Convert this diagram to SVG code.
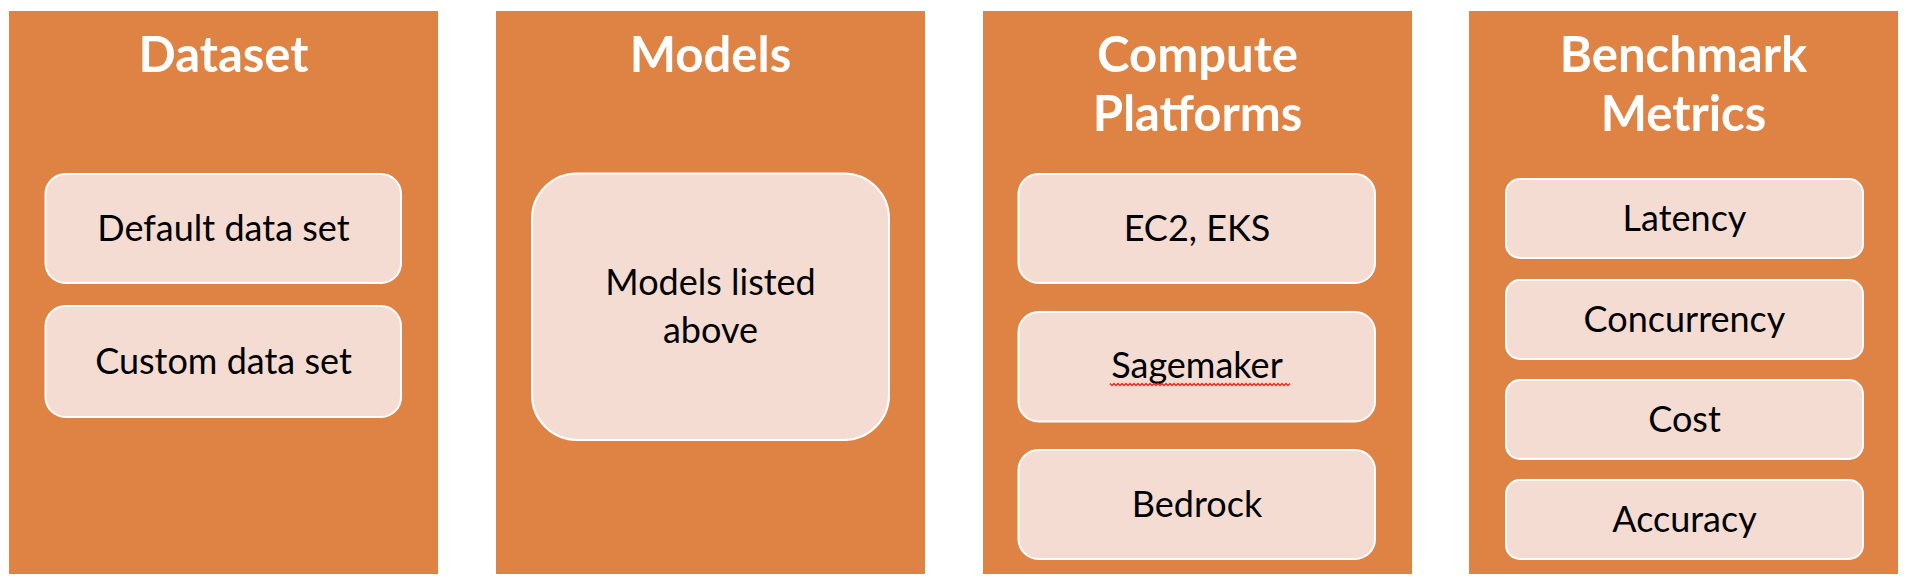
<svg xmlns="http://www.w3.org/2000/svg" width="1906" height="586" viewBox="0 0 1906 586">
<style>
.panel{fill:#DF8344}
.box{fill:#F5DCD3;stroke:#FFFFFF;stroke-width:2}
.title{font-family:Lato,"Open Sans","Liberation Sans",sans-serif;font-weight:700;font-size:49px;fill:#FFFFFF;text-anchor:middle}
.label{font-family:Lato,"Open Sans","Liberation Sans",sans-serif;font-size:36px;fill:#000000;text-anchor:middle}
.squiggle{fill:none;stroke:#E0352B;stroke-width:1.5}
</style>
<rect width="1906" height="586" fill="#FFFFFF"/>
<g id="dataset">
<rect class="panel" x="9" y="11" width="429" height="563"/>
<text class="title" x="223.5" y="72">Dataset</text>
<g id="default-data-set">
<rect class="box" x="45.5" y="174" width="355.5" height="109" rx="20"/>
<text class="label" x="223.5" y="240.5">Default data set</text>
</g>
<g id="custom-data-set">
<rect class="box" x="45.5" y="306" width="355.5" height="111" rx="20"/>
<text class="label" x="223.5" y="373.5">Custom data set</text>
</g>
</g>
<g id="models">
<rect class="panel" x="496" y="11" width="429" height="563"/>
<text class="title" x="710.5" y="72">Models</text>
<g id="models-listed">
<rect class="box" x="532" y="173.5" width="357" height="266.5" rx="45"/>
<text class="label" x="710.5" y="295">Models listed</text>
<text class="label" x="710.5" y="342.5">above</text>
</g>
</g>
<g id="compute">
<rect class="panel" x="983" y="11" width="429" height="563"/>
<text class="title" x="1197.5" y="72">Compute</text>
<text class="title" x="1197.5" y="131">Platforms</text>
<g id="ec2-eks">
<rect class="box" x="1018.5" y="174" width="356.5" height="109" rx="20"/>
<text class="label" x="1197" y="240.5">EC2, EKS</text>
</g>
<g id="sagemaker">
<rect class="box" x="1018.5" y="312" width="356.5" height="109.5" rx="20"/>
<text class="label" x="1197" y="378">Sagemaker</text>
<path class="squiggle" d="M1110 383.5 l2 2 l2 -2 l2 2 l2 -2 l2 2 l2 -2 l2 2 l2 -2 l2 2 l2 -2 l2 2 l2 -2 l2 2 l2 -2 l2 2 l2 -2 l2 2 l2 -2 l2 2 l2 -2 l2 2 l2 -2 l2 2 l2 -2 l2 2 l2 -2 l2 2 l2 -2 l2 2 l2 -2 l2 2 l2 -2 l2 2 l2 -2 l2 2 l2 -2 l2 2 l2 -2 l2 2 l2 -2 l2 2 l2 -2 l2 2 l2 -2 l2 2 l2 -2 l2 2 l2 -2 l2 2 l2 -2 l2 2 l2 -2 l2 2 l2 -2 l2 2 l2 -2 l2 2 l2 -2 l2 2 l2 -2 l2 2 l2 -2 l2 2 l2 -2 l2 2 l2 -2 l2 2 l2 -2 l2 2 l2 -2 l2 2 l2 -2 l2 2 l2 -2 l2 2 l2 -2 l2 2 l2 -2 l2 2 l2 -2 l2 2 l2 -2 l2 2 l2 -2 l2 2 l2 -2 l2 2 l2 -2 l2 2 l2 -2"/>
</g>
<g id="bedrock">
<rect class="box" x="1018.5" y="450" width="356.5" height="109" rx="20"/>
<text class="label" x="1197" y="516.5">Bedrock</text>
</g>
</g>
<g id="benchmark">
<rect class="panel" x="1469" y="11" width="429" height="563"/>
<text class="title" x="1683.5" y="72">Benchmark</text>
<text class="title" x="1683.5" y="131">Metrics</text>
<g id="latency">
<rect class="box" x="1506" y="179" width="357" height="79" rx="14"/>
<text class="label" x="1684.5" y="231">Latency</text>
</g>
<g id="concurrency">
<rect class="box" x="1506" y="280" width="357" height="79" rx="14"/>
<text class="label" x="1684.5" y="332">Concurrency</text>
</g>
<g id="cost">
<rect class="box" x="1506" y="380" width="357" height="79" rx="14"/>
<text class="label" x="1684.5" y="432">Cost</text>
</g>
<g id="accuracy">
<rect class="box" x="1506" y="480" width="357" height="79" rx="14"/>
<text class="label" x="1684.5" y="532">Accuracy</text>
</g>
</g>
<g id="connectors"/>
</svg>
